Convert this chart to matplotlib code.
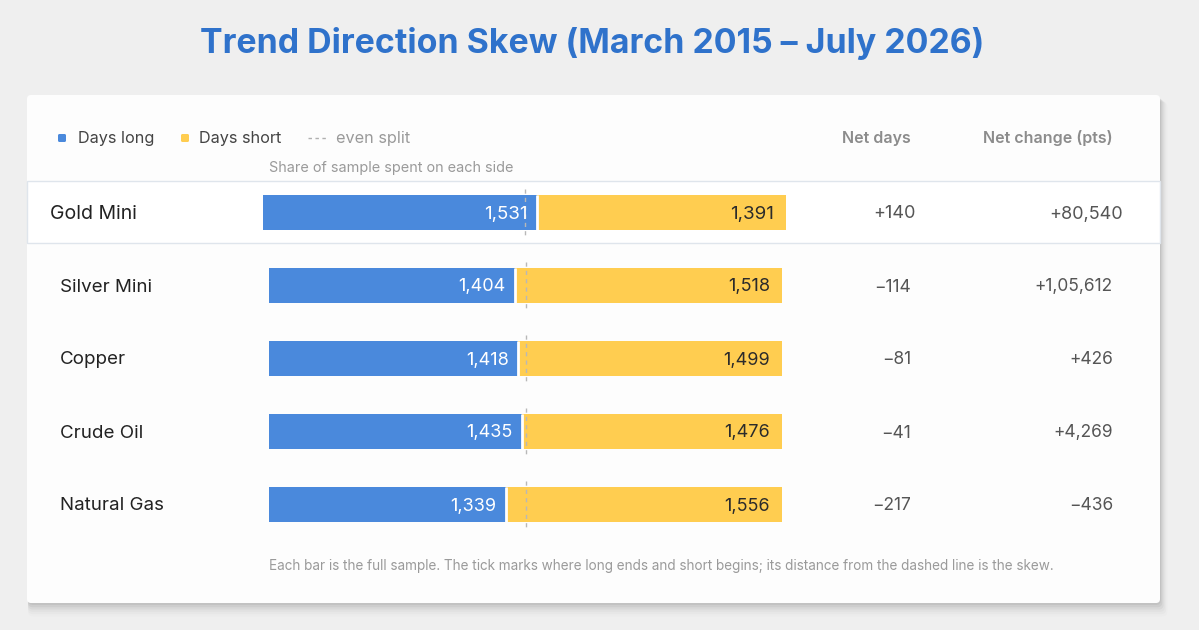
import matplotlib
matplotlib.use("Agg")
import matplotlib.pyplot as plt
import matplotlib.transforms as mtransforms
from matplotlib.patches import FancyBboxPatch, Rectangle

plt.rcParams['font.family'] = ['Inter', 'DejaVu Sans']

# data
assets = ["Gold Mini", "Silver Mini", "Copper", "Crude Oil", "Natural Gas"]
days_long = [1531, 1404, 1418, 1435, 1339]
days_short = [1391, 1518, 1499, 1476, 1556]
net_change = [80540, 105612, 426, 4269, -436]

title = "Trend Direction Skew (March 2015 \u2013 July 2026)"
subhead = "Share of sample spent on each side"
footnote = ("Each bar is the full sample. The tick marks where long ends and short begins; "
            "its distance from the dashed line is the skew.")

BLUE = "#4a89dc"
YELLOW = "#ffcd50"
W, H = 1199, 630


def indian(n):
    s = str(abs(n))
    if len(s) > 3:
        head, tail = s[:-3], s[-3:]
        parts = []
        while len(head) > 2:
            parts.insert(0, head[-2:])
            head = head[:-2]
        if head:
            parts.insert(0, head)
        s = ",".join(parts + [tail])
    return s


def signed(n):
    return ("+" if n >= 0 else "\u2212") + indian(n)


fig = plt.figure(figsize=(W / 100, H / 100), dpi=100)
fig.patch.set_facecolor("#efefef")

# background axes in pixel units for the card and layout text
bg = fig.add_axes([0, 0, 1, 1])
bg.set_xlim(0, W)
bg.set_ylim(H, 0)
bg.axis("off")


def px_axes(x0, y0, w, h):
    return fig.add_axes([x0 / W, 1 - (y0 + h) / H, w / W, h / H])


# card shadow + card
for k, a in enumerate([0.06, 0.045, 0.035, 0.025, 0.018, 0.012]):
    bg.add_patch(FancyBboxPatch((27 + 1, 95 + 2 + k), 1133 + 1.3 * k, 508 + 1.3 * k,
                                boxstyle="round,pad=0,rounding_size=5",
                                fc="black", ec="none", alpha=a, zorder=1))
bg.add_patch(FancyBboxPatch((27, 95), 1133, 508, boxstyle="round,pad=0,rounding_size=4",
                            fc="#fdfdfd", ec="none", zorder=2))
# highlighted row
bg.add_patch(Rectangle((27, 182), 1133, 62, fc="black", ec="none", alpha=0.03, zorder=2))
bg.add_patch(Rectangle((27, 181), 1133, 62, fc="white", ec="#dfe5ec", lw=1, zorder=3))

bg.text(592, 44, title, ha="center", va="center", fontsize=24.4, fontweight="bold",
        color="#2f72cb", zorder=5)

# legend
bg.add_patch(FancyBboxPatch((58, 134), 8, 8, boxstyle="round,pad=0,rounding_size=1.5",
                            fc=BLUE, ec="none", zorder=5))
bg.text(78, 138, "Days long", ha="left", va="center", fontsize=11.7, color="#444444", zorder=5)
bg.add_patch(FancyBboxPatch((181, 134), 8, 8, boxstyle="round,pad=0,rounding_size=1.5",
                            fc=YELLOW, ec="none", zorder=5))
bg.text(199, 138, "Days short", ha="left", va="center", fontsize=11.7, color="#444444", zorder=5)
bg.plot([308, 327], [138, 138], color="#b0b0b0", lw=1, ls=(0, (2.5, 2.5)), zorder=5)
bg.text(336, 138, "even split", ha="left", va="center", fontsize=11.7, color="#9a9a9a", zorder=5)
bg.text(911, 138, "Net days", ha="right", va="center", fontsize=11.5, fontweight="semibold",
        color="#8c8c8c", zorder=5)
bg.text(1113, 138, "Net change (pts)", ha="right", va="center", fontsize=11.5,
        fontweight="semibold", color="#8c8c8c", zorder=5)
bg.text(269, 168, subhead, ha="left", va="center", fontsize=10.4, color="#9a9a9a", zorder=5)
bg.text(269, 566, footnote, ha="left", va="center", fontsize=9.75, color="#9a9a9a", zorder=5)

# bar axes: rows 1..4 share one axes, the highlighted Gold row gets its own slightly larger one
ax = px_axes(269, 175.5, 513, 365)
ax.set_xlim(0, 1)
ax.set_ylim(4.5, -0.5)
axg = px_axes(263, 181, 523, 62)
axg.set_xlim(0, 1)
axg.set_ylim(0.5, -0.5)
for a in (ax, axg):
    a.axis("off")
    a.patch.set_alpha(0)

for i, name in enumerate(assets):
    lo, sh = days_long[i], days_short[i]
    p = lo / (lo + sh)
    if i == 0:
        a, y, h, ext = axg, 0, 35 / 62, 6 / 62
        lab_x, nd_x, nc_x, fs = 50, 916, 1123, 14
    else:
        a, y, h, ext = ax, i, 35 / 73, 6 / 73
        lab_x, nd_x, nc_x, fs = 60, 911, 1113, 13.5
    a.barh(y, p, left=0, height=h, color=BLUE, zorder=2)
    a.barh(y, 1 - p, left=p, height=h, color=YELLOW, zorder=2)
    a.plot([p, p], [y - h / 2, y + h / 2], color="white", lw=2, zorder=3, solid_capstyle="butt")
    a.plot([0.5, 0.5], [y - h / 2 - ext, y + h / 2 + ext],
           color="#b8b8b8", lw=1, ls=(0, (3, 3)), zorder=4)
    a.annotate(f"{lo:,}", (p, y), xytext=(-7, 0), textcoords="offset points",
               ha="right", va="center_baseline", fontsize=fs - 0.5, color="white", zorder=5)
    a.annotate(f"{sh:,}", (1, y), xytext=(-8.5, 0), textcoords="offset points",
               ha="right", va="center_baseline", fontsize=fs - 0.5, color="#2b2b2b", zorder=5)
    tr = mtransforms.blended_transform_factory(bg.transData, a.transData)
    bg.text(lab_x, y, name, transform=tr, ha="left", va="center_baseline", fontsize=fs,
            color="#222222", zorder=6)
    bg.text(nd_x, y, signed(lo - sh), transform=tr, ha="right", va="center_baseline",
            fontsize=fs - 1, color="#555555", zorder=6)
    bg.text(nc_x, y, signed(net_change[i]), transform=tr, ha="right", va="center_baseline",
            fontsize=fs - 1, color="#555555", zorder=6)

fig.savefig("out.png", dpi=100, facecolor=fig.get_facecolor())
